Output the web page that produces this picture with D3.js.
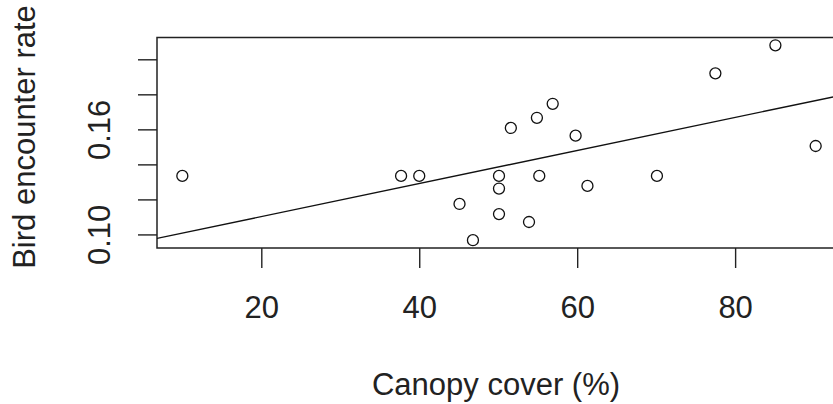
<!DOCTYPE html>
<html>
<head>
<meta charset="utf-8">
<script src="https://cdn.jsdelivr.net/npm/d3@7"></script>
<style>
  body { margin: 0; background: #fff; }
  text { font-family: Arial, "Liberation Sans", sans-serif; fill: #222; }
</style>
</head>
<body>
<script>
// data
var canopy = [10, 37.7, 40, 45.1, 46.8, 50.1, 50.1, 50.1, 51.6, 53.9, 54.9, 55.2, 56.9, 59.8, 61.3, 70.1, 77.5, 85.1, 90.2];
var encounter = [0.1334, 0.1334, 0.1334, 0.1174, 0.0967, 0.1334, 0.1262, 0.1116, 0.1608, 0.1071, 0.1666, 0.1334, 0.1746, 0.1564, 0.1277, 0.1334, 0.1920, 0.2080, 0.1505];
var fit_intercept = 0.0913;
var fit_slope = 0.000944;
var x_ticks = [20, 40, 60, 80];
var y_ticks = [0.10, 0.12, 0.14, 0.16, 0.18, 0.20];
var y_labelled = ['0.10', '0.16'];

var width = 833;
var height = 404;
var plot_left = 157, plot_right = 841, plot_top = 37.5, plot_bottom = 248;
var font = '31px';

// R style range: extent padded by 4%
function padded(values) {
  var ext = d3.extent(values);
  var pad = (ext[1] - ext[0]) * 0.04;
  return [ext[0] - pad, ext[1] + pad];
}

var x = d3.scaleLinear().domain(padded(canopy)).range([plot_left, plot_right]);
var y = d3.scaleLinear().domain(padded(encounter)).range([plot_bottom, plot_top]);

var svg = d3.select('body')
  .append('svg')
    .attr('width', width)
    .attr('height', height);

svg.append('defs')
  .append('clipPath')
    .attr('id', 'plot-clip')
  .append('rect')
    .attr('x', plot_left)
    .attr('y', plot_top)
    .attr('width', plot_right - plot_left)
    .attr('height', plot_bottom - plot_top);

// x axis
var xAxis = svg.append('g')
  .attr('transform', 'translate(0,' + plot_bottom + ')')
  .call(d3.axisBottom(x).tickValues(x_ticks).tickSize(20));
xAxis.select('.domain').remove();
xAxis.selectAll('line').attr('stroke', '#222').attr('stroke-width', 1.4);
xAxis.selectAll('text')
  .attr('dy', null)
  .attr('y', 70)
  .style('font-size', font)
  .style('font-family', 'Arial, "Liberation Sans", sans-serif')
  .attr('fill', '#222');

// y axis, only some ticks get a label
var yAxis = svg.append('g')
  .attr('transform', 'translate(' + plot_left + ',0)')
  .call(d3.axisLeft(y).tickValues(y_ticks).tickSize(19)
    .tickFormat(function(d) { var s = d3.format('.2f')(d); return y_labelled.indexOf(s) >= 0 ? s : ''; }));
yAxis.select('.domain').remove();
yAxis.selectAll('line').attr('stroke', '#222').attr('stroke-width', 1.4);
yAxis.selectAll('text')
  .attr('x', null)
  .attr('dy', null)
  .attr('text-anchor', 'middle')
  .attr('transform', 'translate(-47,0) rotate(-90)')
  .style('font-size', font)
  .style('font-family', 'Arial, "Liberation Sans", sans-serif')
  .attr('fill', '#222');

// plot box
svg.append('rect')
  .attr('x', plot_left)
  .attr('y', plot_top)
  .attr('width', plot_right - plot_left)
  .attr('height', plot_bottom - plot_top)
  .attr('fill', 'none')
  .attr('stroke', '#222')
  .attr('stroke-width', 1.5);

// regression line
var xd = x.domain();
svg.append('line')
  .attr('clip-path', 'url(#plot-clip)')
  .attr('x1', x(xd[0]))
  .attr('y1', y(fit_intercept + fit_slope * xd[0]))
  .attr('x2', x(xd[1]))
  .attr('y2', y(fit_intercept + fit_slope * xd[1]))
  .attr('stroke', '#111')
  .attr('stroke-width', 1.4);

// points
svg.selectAll('circle')
  .data(d3.zip(canopy, encounter))
  .enter()
  .append('circle')
    .attr('cx', function(d) { return x(d[0]); })
    .attr('cy', function(d) { return y(d[1]); })
    .attr('r', 5.5)
    .attr('fill', 'none')
    .attr('stroke', '#111')
    .attr('stroke-width', 1.3);

// axis titles
svg.append('text')
  .attr('x', (plot_left + plot_right) / 2 - 3)
  .attr('y', 395)
  .attr('text-anchor', 'middle')
  .style('font-size', font)
  .text('Canopy cover (%)');

svg.append('text')
  .attr('transform', 'translate(35,137) rotate(-90)')
  .attr('text-anchor', 'middle')
  .style('font-size', font)
  .text('Bird encounter rate');
</script>
</body>
</html>
